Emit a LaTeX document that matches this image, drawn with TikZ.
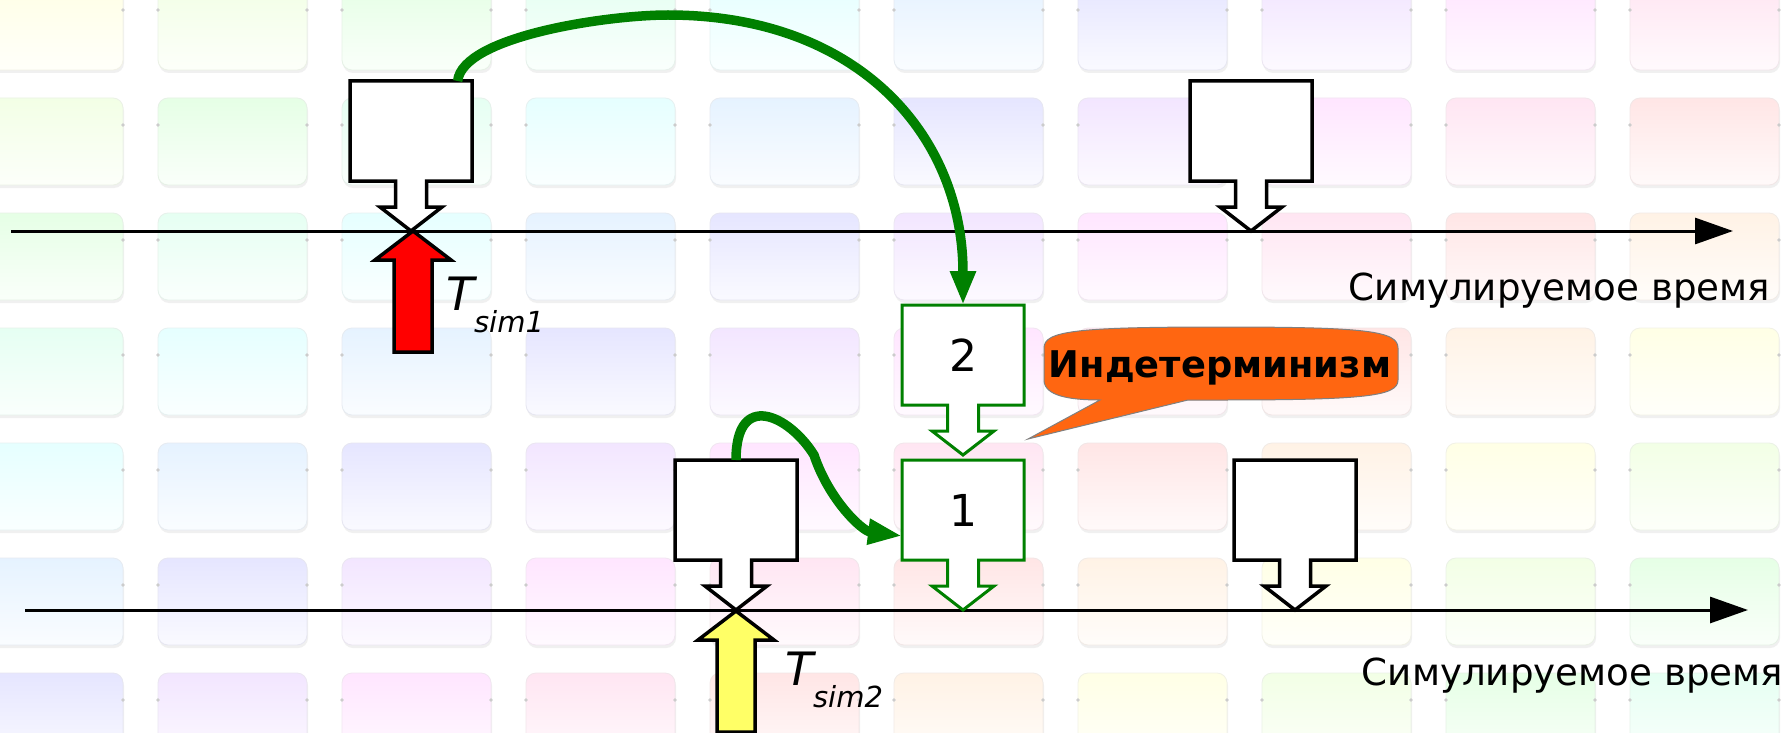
\documentclass[tikz,border=0pt]{standalone}
\usepackage{fontspec}
\setmainfont{DejaVu Sans}
\usetikzlibrary{arrows.meta}
\definecolor{flowgreen}{RGB}{0,128,0}
\definecolor{calloutorange}{RGB}{255,102,17}
\definecolor{simyellow}{RGB}{255,255,102}

\begin{document}
\begin{tikzpicture}[x=1pt,y=-1pt,inner sep=0pt,outer sep=0pt,
  evbox/.pic={\path[pic actions] (-61,-150) -- (61,-150) -- (61,-50) -- (15.5,-50) -- (15.5,-24) -- (31,-24) -- (0,0) -- (-31,-24) -- (-15.5,-24) -- (-15.5,-50) -- (-61,-50) -- cycle;
    \node[draw=none,fill=none,minimum width=122pt,minimum height=100pt] (-body) at (0,-100) {\fontsize{44}{44}\selectfont #1};},
  simarrow/.pic={\path[pic actions] (0,0) -- (38,29) -- (19,29) -- (19,121) -- (-19,121) -- (-19,29) -- (-38,29) -- cycle;
    \coordinate (-tip) at (0,0);},
  evplain/.style={draw=black,fill=white,line width=3.5pt},
  evgreen/.style={draw=flowgreen,fill=white,line width=3pt},
  timeline/.style={line width=3pt,-{Triangle[length=38pt,width=26pt]}},
  flow/.style={flowgreen,line width=9.5pt,-{Triangle[length=34pt,width=24pt]}},
  timelabel/.style={anchor=base east,font=\fontsize{37.2}{37.2}\selectfont},
  tsim/.style={anchor=base west,font=\fontsize{46}{46}\selectfont\itshape}]
\useasboundingbox (0,0) rectangle (1788,733);
\fill[white] (0,0) rectangle (1788,733);

% pastel tiles behind everything
\begin{scope}
\clip (0,0) rectangle (1788,733);
\foreach \i in {0,...,9}
  \foreach \j in {0,...,6}{
    \pgfmathtruncatemacro\hue{mod(60+30*(\i+\j),360)}
    \definecolor{tilehsb}{Hsb}{\hue,0.10,1}
    \colorlet{tilec}[rgb]{tilehsb}
    \fill[black!6,rounded corners=10pt] (-25+184*\i,-14+115*\j) rectangle ++(149,87);
    \shade[top color=tilec,bottom color=tilec!20!white,draw=tilec!80!gray!55,line width=.8pt,rounded corners=10pt] (-26+184*\i,-17+115*\j) rectangle ++(149,87);
    \fill[black!20] (-26+184*\i,10+115*\j) circle (1.8) (123+184*\i,10+115*\j) circle (1.8);
  }
\end{scope}

\coordinate (upstart) at (11,231);
\coordinate (upend) at (1733,231);
\coordinate (lowstart) at (25,610);
\coordinate (lowend) at (1748,610);
\draw[timeline] (upstart) -- (upend);
\draw[timeline] (lowstart) -- (lowend);
\node[timelabel] (uplabel) at (1770,300) {Симулируемое время};
\node[timelabel] (lowlabel) at (1783,685) {Симулируемое время};

\pic[evplain] (evA) at (411,231) {evbox=};
\pic[evplain] (evB) at (1251,231) {evbox=};
\pic[evplain] (evC) at (736,610) {evbox=};
\pic[evplain] (evD) at (1295,610) {evbox=};
\pic[evgreen] (evone) at (963,610) {evbox=1};
\pic[evgreen] (evtwo) at (963,455) {evbox=2};

\pic[draw=black,fill=red,line width=3.5pt] (simA) at (413,231) {simarrow};
\pic[draw=black,fill=simyellow,line width=3.5pt] (simB) at (736,611) {simarrow};
\node[tsim] (tsimA) at (446,310) {T\raisebox{-22pt}{\fontsize{29}{29}\selectfont sim1}};
\node[tsim] (tsimB) at (785,685) {T\raisebox{-22pt}{\fontsize{29}{29}\selectfont sim2}};

% callout with its tail in one outline
\coordinate (indettip) at (1028,439);
\draw[gray,line width=1pt,fill=calloutorange] (1044,348) .. controls (1044,331) and (1075,327) .. (1221,327) .. controls (1367,327) and (1398,331) .. (1398,348)
  -- (1398,380) .. controls (1398,396) and (1367,400) .. (1221,400) -- (1188,400) -- (indettip) -- (1100,400) .. controls (1070,400) and (1044,396) .. (1044,380) -- cycle;
\node[anchor=base,font=\fontsize{36.8}{36.8}\selectfont\bfseries] (indettext) at (1220,377) {Индетерминизм};

\draw[flow] (evA-body.47) .. controls +(5,-45) and +(-60,0) .. (668,15) .. controls +(190,0) and +(0,-170) .. (evtwo-body.north);
\draw[flow] (evC-body.north) .. controls +(0,-70) and +(-25,-40) .. (814,455) .. controls +(15,45) and +(-40,-5) .. (evone-body.203);
\end{tikzpicture}
\end{document}
